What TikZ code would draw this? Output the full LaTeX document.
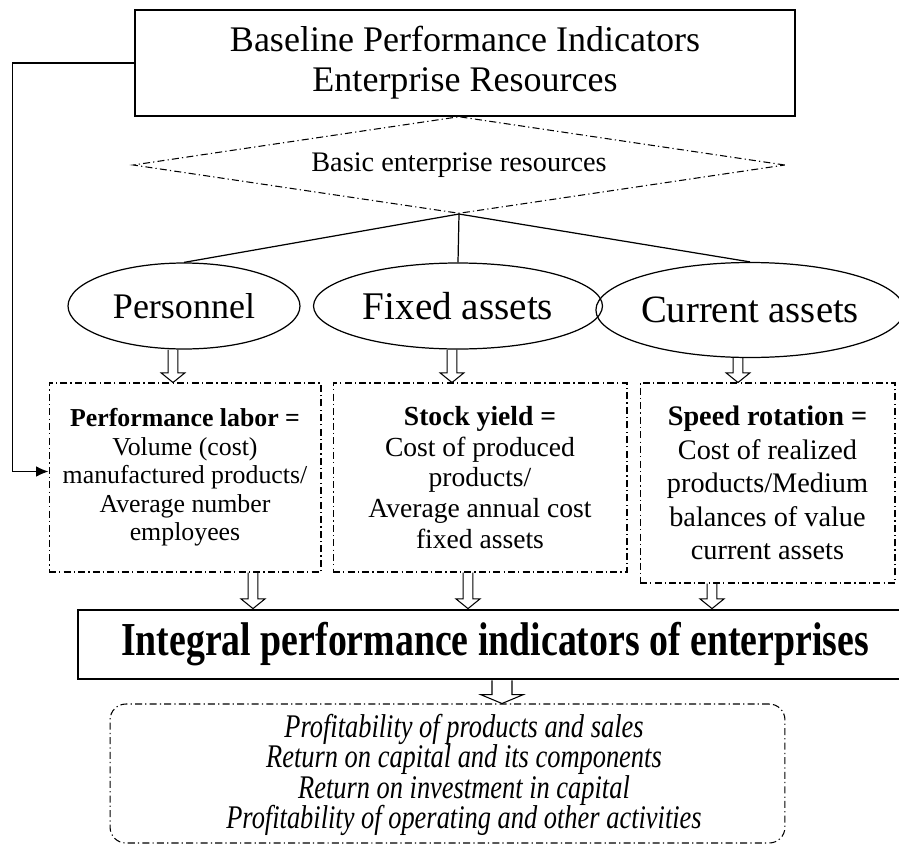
\documentclass[tikz,border=0pt]{standalone}
\usepackage{fontspec}
\setmainfont{Liberation Serif}
\newfontfamily\narrowserif{Liberation Serif}[FakeStretch=0.8]
\usepackage{tikz}
\usetikzlibrary{shapes}
\usetikzlibrary{calc}
\usetikzlibrary{arrows.meta}

\tikzset{fat arrow/.style n args={3}{line width=0.6pt, to path={let \p1=(\tikztostart), \p2=(\tikztotarget) in
	(\x1-#1,\y1) -- (\x1-#1,\y2+#3) -- (\x1-#2,\y2+#3) -- (\x1,\y2) -- (\x1+#2,\y2+#3) -- (\x1+#1,\y2+#3) -- (\x1+#1,\y1)}}}

\begin{document}
\begin{tikzpicture}[x=0.02cm,y=-0.02cm]

		\tikzstyle{dashdot}  = [dash pattern=on 4pt off 1.8pt on 0.7pt off 1.8pt]
		\tikzstyle{headbox}  = [draw, line width=0.7pt, minimum width=13.2cm, minimum height=2.12cm, align=center]
		\tikzstyle{resource} = [ellipse, draw, line width=0.7pt, inner sep=0pt]
		\tikzstyle{formula}  = [draw, dashdot, line width=0.6pt, align=center, inner sep=0pt]
		\useasboundingbox (0,0) rectangle (899,845);
		%%Top
		\node [headbox, font=\fontsize{20.5}{22.8}\selectfont](head) at (465,63) {Baseline Performance Indicators\\Enterprise Resources};
		\node [diamond, draw, dashdot, line width=0.6pt, aspect=6.7, minimum width=13.04cm, minimum height=1.94cm, inner sep=0pt, font=\fontsize{16.1}{18}\selectfont](basic) at (459,165) {Basic enterprise resources};
		%%Resources
		\node [resource, minimum width=4.64cm, minimum height=1.72cm, font=\fontsize{20.5}{24}\selectfont](pers) at (184,306) {Personnel};
		\node [resource, minimum width=5.78cm, minimum height=1.72cm, font=\fontsize{22.3}{26}\selectfont](fixed) at (458,306) {Fixed assets};
		\node [resource, minimum width=5.92cm, minimum height=1.9cm, font=\fontsize{22}{26}\selectfont](curr) at (750,310) {Current assets};
		%%Formulas
		\node [formula, minimum width=5.44cm, minimum height=3.78cm, font=\fontsize{14.7}{16.2}\selectfont](labor) at (185,477.5) {\textbf{Performance labor =}\\Volume (cost)\\manufactured products/\\Average number\\employees};
		\node [formula, minimum width=5.88cm, minimum height=3.78cm, font=\fontsize{15.7}{17.6}\selectfont](yield) at (480,477.5) {\textbf{Stock yield =}\\Cost of produced\\products/\\Average annual cost\\fixed assets};
		\node [formula, minimum width=5.1cm, minimum height=4cm, font=\fontsize{16.1}{19}\selectfont](speed) at (767.5,483) {\textbf{Speed rotation =}\\Cost of realized\\products/Medium\\balances of value\\current assets};
		%%Result
		\node [draw, line width=1.6pt, minimum width=16.68cm, minimum height=1.38cm, font=\narrowserif\bfseries\fontsize{26.9}{30}\selectfont](integ) at (495,644.5) {Integral performance indicators of enterprises};
		\node [draw, dashdot, rounded corners=9pt, line width=0.6pt, minimum width=13.5cm, minimum height=2.78cm](result) at (447.5,773.5) {};
		\node [align=center, font=\narrowserif\itshape\fontsize{18.8}{17.4}\selectfont](resulttext) at (464,775) {Profitability of products and sales\\Return on capital and its components\\Return on investment in capital\\Profitability of operating and other activities};
		%%Edges
		\draw [line width=0.7pt] (basic.south)--(pers.north);
		\draw [line width=0.7pt] (basic.south)--(fixed.north);
		\draw [line width=0.7pt] (basic.south)--(curr.north);
		\draw [line width=0.7pt, -{Latex[length=7pt,width=6pt]}] (head.west) -- ++(-2.44cm,0) |- ([yshift=0.12cm]labor.west);
		\draw [fat arrow={2.8pt}{6.8pt}{5.5pt}] ([xshift=-0.22cm]pers.south) to ([xshift=-0.22cm]pers.south |- labor.north);
		\draw [fat arrow={2.8pt}{6.8pt}{5.5pt}] ([xshift=-0.12cm]fixed.south) to ([xshift=-0.12cm]fixed.south |- yield.north);
		\draw [fat arrow={2.8pt}{6.8pt}{5.5pt}] ([xshift=-0.24cm]curr.south) to ([xshift=-0.24cm]curr.south |- speed.north);
		\draw [fat arrow={2.8pt}{6.8pt}{5.5pt}] ([xshift=1.36cm]labor.south) to ([xshift=1.36cm]labor.south |- integ.north);
		\draw [fat arrow={2.8pt}{6.8pt}{5.5pt}] ([xshift=-0.24cm]yield.south) to ([xshift=-0.24cm]yield.south |- integ.north);
		\draw [fat arrow={2.8pt}{6.8pt}{5.5pt}] ([xshift=-1.11cm]speed.south) to ([xshift=-1.11cm]speed.south |- integ.north);
		\draw [fat arrow={5.7pt}{12pt}{5pt}] ([xshift=0.14cm]integ.south) to ([xshift=0.14cm]integ.south |- result.north);
	\end{tikzpicture}
\end{document}
